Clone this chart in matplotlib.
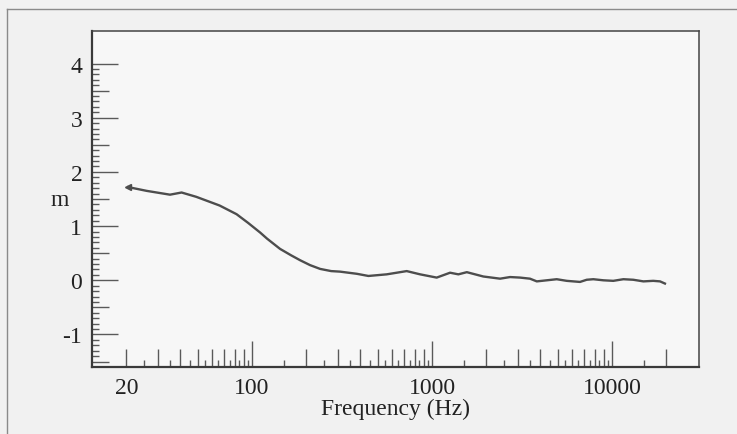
"""Response curve m vs frequency (log axis), scanned-figure look."""
import numpy as np
import matplotlib
matplotlib.use("Agg")
import matplotlib.pyplot as plt
from matplotlib.lines import Line2D

plt.rcParams["font.family"] = ["Liberation Serif", "DejaVu Serif"]

# curve
freq_hz = [20.5, 26, 35, 40.6, 49, 66, 82, 95, 111, 121, 143, 165, 185,
           210, 239, 275, 308, 382, 443, 560, 723, 858, 1061, 1259, 1400,
           1560, 1928, 2387, 2712, 3083, 3500, 3818, 4335, 4929, 5600, 6637,
           7230, 7870, 8950, 10160, 11560, 13120, 14930, 16940, 18480, 19670]
m_vals = [1.72, 1.65, 1.58, 1.62, 1.54, 1.38, 1.22, 1.06, 0.88, 0.77, 0.58,
          0.46, 0.37, 0.28, 0.21, 0.17, 0.16, 0.12, 0.08, 0.11, 0.17, 0.11,
          0.05, 0.14, 0.11, 0.15, 0.07, 0.03, 0.06, 0.05, 0.03, -0.02, 0.00,
          0.02, -0.01, -0.03, 0.01, 0.02, 0.00, -0.01, 0.02, 0.01, -0.02,
          -0.01, -0.02, -0.06]

x_major = [20, 100, 1000, 10000]
x_labels = ["20", "100", "1000", "10000"]
y_major = [-1, 0, 1, 2, 3, 4]

FG = "#3a3a3a"

fig = plt.figure(figsize=(7.37, 4.35), dpi=100, facecolor="#f1f1f1")
ax = fig.add_axes([0.1248, 0.154, 0.8236, 0.7724], facecolor="#f7f7f7")

ax.plot(freq_hz, m_vals, color="#4d4d4d", lw=1.7, solid_joinstyle="round")
ax.plot(freq_hz[:1], m_vals[:1], marker="<", ms=4, color="#4d4d4d")

ax.set_xscale("log")
ax.set_xlim(12.9, 30400)
ax.set_ylim(-1.6, 4.6)

# x ticks: labelled majors, then 5/50/500/5000 steps inside each decade
minor_x = (list(range(25, 100, 5)) + list(range(150, 1000, 50))
           + list(range(1500, 10000, 500)) + [15000, 20000])
ax.set_xticks(x_major)
ax.set_xticklabels(x_labels)
ax.set_xticks(minor_x, minor=True)
ax.xaxis.set_minor_formatter(plt.NullFormatter())

minor_y = [v / 10 for v in range(-15, 41) if v % 10 != 0]
ax.set_yticks(y_major)
ax.set_yticklabels([str(v) for v in y_major])
ax.set_yticks(minor_y, minor=True)

ax.tick_params(which="both", direction="in", top=False, right=False,
               color="#5a5a5a", width=1.0)
ax.tick_params(which="major", length=19, labelsize=17, pad=7,
               labelcolor="#222222")
ax.tick_params(which="minor", length=5)

# per-tick lengths like the original
for t, v in zip(ax.xaxis.get_major_ticks(), x_major):
    if v == 20:
        t.tick1line.set_markersize(13)
for t, v in zip(ax.xaxis.get_minor_ticks(), minor_x):
    dec = 10 ** int(np.floor(np.log10(v)))
    if v % dec == 0:
        t.tick1line.set_markersize(13)
for t, v in zip(ax.yaxis.get_minor_ticks(), minor_y):
    if abs(v * 2 - round(v * 2)) < 1e-6:
        t.tick1line.set_markersize(12)

for side in ["left", "bottom"]:
    ax.spines[side].set_color(FG)
    ax.spines[side].set_linewidth(1.6)
for side in ["top", "right"]:
    ax.spines[side].set_color("#444444")
    ax.spines[side].set_linewidth(1.1)

ax.set_xlabel("Frequency (Hz)", fontsize=17, color="#222222", labelpad=0)
ax.set_ylabel("m", fontsize=17, rotation=0, color="#222222",
              ha="center", va="center")
ax.yaxis.set_label_coords(-0.053, (1.5 + 1.6) / 6.2)

# outer frame of the scanned page
fig.add_artist(Line2D([7 / 737, 1], [1 - 9.5 / 435, 1 - 9.5 / 435],
                      color="#8a8a8a", lw=1.0))
fig.add_artist(Line2D([7 / 737, 7 / 737], [0, 1 - 9.5 / 435],
                      color="#8a8a8a", lw=1.0))

fig.savefig("out.png", dpi=100, facecolor=fig.get_facecolor())
